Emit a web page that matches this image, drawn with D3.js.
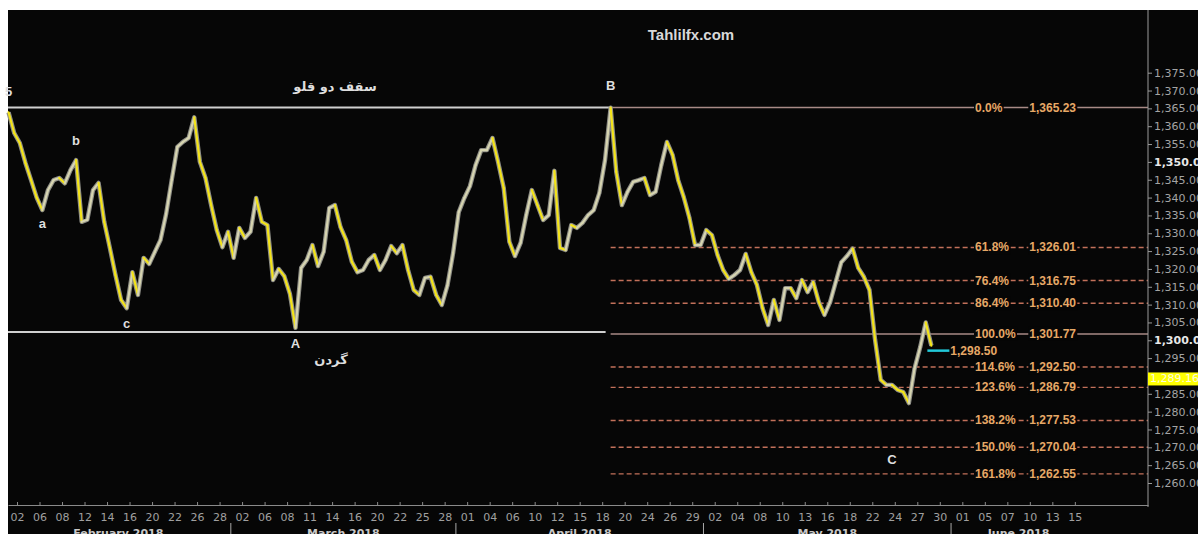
<!DOCTYPE html>
<html>
<head>
<meta charset="utf-8">
<script src="https://cdn.jsdelivr.net/npm/d3@7"></script>
<style>
  body { margin: 0; background: #fff; }
  svg { display: block; }
</style>
</head>
<body>
<svg id="chart"></svg>
<script>
// x axis: one label every 2 sessions
const dayLabels = ['02','06','08','12','14','16','20','22','26','28',
  '02','06','08','11','14','16','20','22','25','28',
  '01','04','06','10','12','15','18','20','24','26','29',
  '02','04','08','10','13','16','18','22','24','27','30',
  '01','05','07','10','13','15'];
const monthNames = ['February 2018', 'March 2018', 'April 2018', 'May 2018', 'June 2018'];
const monthCounts = [10, 10, 11, 11, 6];

// price, one value every half session
const startT = -0.75, stepT = 0.5;
const prices = [
  1363.9, 1358.1, 1355.3, 1349.7, 1344.9, 1340.0, 1336.5, 1342.1, 1344.9, 1345.5,
  1344.0, 1347.7, 1350.5, 1333.2, 1333.8, 1342.1, 1344.1, 1333.2, 1325.9, 1318.3,
  1311.3, 1309.0, 1319.1, 1312.7, 1323.1, 1321.4, 1324.8, 1328.1, 1335.4, 1345.0,
  1354.2, 1355.6, 1356.7, 1362.5, 1350.0, 1345.5, 1337.9, 1330.9, 1326.1, 1330.4,
  1323.1, 1331.5, 1328.7, 1330.4, 1339.9, 1333.2, 1332.3, 1316.9, 1320.0, 1318.0,
  1313.0, 1303.5, 1320.3, 1322.5, 1326.7, 1320.8, 1324.8, 1337.1, 1337.9, 1331.7,
  1328.1, 1322.0, 1319.1, 1319.7, 1322.5, 1323.9, 1319.7, 1322.5, 1326.4, 1324.4,
  1326.7, 1319.7, 1314.1, 1312.7, 1317.5, 1317.8, 1312.7, 1309.9, 1315.4, 1324.4,
  1335.9, 1339.9, 1343.2, 1349.1, 1353.3, 1353.3, 1356.7, 1350.0, 1342.7, 1327.6,
  1323.6, 1327.3, 1335.1, 1342.1, 1337.9, 1333.7, 1335.1, 1347.5, 1325.9, 1325.3,
  1332.3, 1331.5, 1332.9, 1335.1, 1336.5, 1341.3, 1350.5, 1365.2, 1347.2, 1337.9,
  1341.6, 1344.4, 1344.9, 1345.5, 1340.7, 1341.6, 1349.1, 1355.6, 1352.0, 1344.9,
  1340.1, 1334.3, 1326.7, 1326.7, 1330.9, 1329.5, 1323.9, 1319.7, 1317.2, 1318.3,
  1319.7, 1324.2, 1319.1, 1315.5, 1309.0, 1304.3, 1311.3, 1305.7, 1314.6, 1314.6,
  1311.8, 1316.9, 1313.5, 1316.3, 1310.7, 1307.1, 1310.7, 1316.3, 1321.9, 1323.6,
  1325.7, 1320.3, 1317.8, 1314.1, 1300.1, 1288.9, 1287.5, 1287.5, 1286.1, 1285.5,
  1282.4, 1292.0, 1298.0, 1305.0, 1298.5
];

// fibonacci extension from B down to A
const fibPct = [0, 61.8, 76.4, 86.4, 100, 114.6, 123.6, 138.2, 150, 161.8];
const fibVal = [1365.23, 1326.01, 1316.75, 1310.40, 1301.77, 1292.50, 1286.79, 1277.53, 1270.04, 1262.55];
const ceilingVal = 1365.23, neckVal = 1302.3;
const lastPrice = 1298.50, boxPrice = 1289.16;

// wave labels tied to points of the series
const waveText = ['5', 'a', 'b', 'c', 'A', 'B', 'C'];
const waveIdx  = [0, 6, 12, 21, 51, 107, 157];
const waveOff  = [-21, 13, -20, 15, 16, -22, 75];

const width = 1198, height = 534;
const svg = d3.select('#chart').attr('width', width).attr('height', height);

svg.append('rect').attr('x', 8).attr('y', 10)
  .attr('width', width - 8).attr('height', height - 10).attr('fill', '#060606');

const x = d3.scaleLinear().domain([-0.8, 100.5]).range([8, 1148]);
const y = d3.scaleLinear().domain([1260, 1375]).range([483, 72.7]);

const pts = prices.map((p, i) => ({ t: startT + i * stepT, p }));
const bT = pts[107].t;
const lastT = pts[pts.length - 1].t;

// double-top ceiling and neckline
svg.append('line').attr('x1', x.range()[0]).attr('x2', x(bT))
  .attr('y1', y(ceilingVal)).attr('y2', y(ceilingVal))
  .attr('stroke', '#cfcfcf').attr('stroke-width', 2);
svg.append('line').attr('x1', x.range()[0]).attr('x2', x(bT) - 5)
  .attr('y1', y(neckVal)).attr('y2', y(neckVal))
  .attr('stroke', '#cfcfcf').attr('stroke-width', 2);

// fib lines
const fibG = svg.append('g');
fibPct.forEach((pc, i) => {
  const yy = y(fibVal[i]);
  const solid = pc === 0 || pc === 100;
  fibG.append('line')
    .attr('x1', x(bT)).attr('x2', x.range()[1])
    .attr('y1', yy).attr('y2', yy)
    .attr('stroke', solid ? '#a88a86' : '#c2705a')
    .attr('stroke-width', 1.4)
    .attr('stroke-dasharray', solid ? null : '5,3');
});

// price line: grey band underneath, falling segments yellow, rising grey
svg.append('path').datum(pts)
  .attr('d', d3.line().x(d => x(d.t)).y(d => y(d.p)))
  .attr('fill', 'none').attr('stroke', '#8e8e86').attr('stroke-width', 4.4)
  .attr('stroke-linejoin', 'round');
svg.append('g').selectAll('line')
  .data(d3.pairs(pts))
  .join('line')
  .attr('x1', d => x(d[0].t)).attr('y1', d => y(d[0].p))
  .attr('x2', d => x(d[1].t)).attr('y2', d => y(d[1].p))
  .attr('stroke', d => d[1].p < d[0].p ? '#f4e41a' : '#d6d4b0')
  .attr('stroke-width', 2.2)
  .attr('stroke-linecap', 'round');

// fib labels with black boxes
function boxedText(g, tx, ty, anchor, txt, fill, size) {
  const t = g.append('text').attr('x', tx).attr('y', ty)
    .attr('text-anchor', anchor).attr('dominant-baseline', 'central')
    .attr('font-family', 'Liberation Sans, Arial, sans-serif')
    .attr('font-weight', 'bold').attr('font-size', size)
    .attr('fill', fill).text(txt);
  const bb = t.node().getBBox();
  g.insert('rect', () => t.node())
    .attr('x', bb.x - 1).attr('y', bb.y).attr('width', bb.width + 2).attr('height', bb.height)
    .attr('fill', '#060606');
  return t;
}
const fmt = d3.format(',.2f');
fibPct.forEach((pc, i) => {
  const yy = y(fibVal[i]);
  boxedText(fibG, 975, yy, 'start', pc.toFixed(1) + '%', '#e6a866', 12);
  boxedText(fibG, 1076, yy, 'end', fmt(fibVal[i]), '#e6a866', 12);
});

// last price marker
const cy = y(lastPrice) + 5;
svg.append('line').attr('x1', x(lastT) - 4).attr('x2', x(lastT) + 18)
  .attr('y1', cy).attr('y2', cy).attr('stroke', '#22c8d8').attr('stroke-width', 2.5);
svg.append('text').attr('x', x(lastT) + 19).attr('y', cy)
  .attr('dominant-baseline', 'central')
  .attr('font-family', 'Liberation Sans, Arial, sans-serif')
  .attr('font-weight', 'bold').attr('font-size', 12)
  .attr('fill', '#e6a866').text(fmt(lastPrice));

// right axis (labels run off the edge, as in the source)
svg.append('line').attr('x1', 1148).attr('x2', 1148).attr('y1', 10).attr('y2', 507)
  .attr('stroke', '#9a9a9a');
const yAxis = svg.append('g').attr('transform', 'translate(1148,0)')
  .call(d3.axisRight(y)
    .tickValues(d3.range(1260, 1376, 5).filter(v => v !== 1290))
    .tickFormat(fmt).tickSize(4).tickPadding(2));
yAxis.select('.domain').remove();
yAxis.selectAll('.tick line').attr('stroke', '#9a9a9a');
yAxis.selectAll('.tick text')
  .attr('font-family', 'DejaVu Sans, sans-serif').attr('font-size', 11)
  .attr('fill', d => (d === 1350 || d === 1300) ? '#e8e8e8' : '#a4a4a4')
  .attr('font-weight', d => (d === 1350 || d === 1300) ? 'bold' : 'normal');

svg.append('rect').attr('x', 1148).attr('y', y(boxPrice) - 6.5)
  .attr('width', 50).attr('height', 13).attr('fill', '#ffff00');
svg.append('text').attr('x', 1150).attr('y', y(boxPrice))
  .attr('dominant-baseline', 'central')
  .attr('font-family', 'DejaVu Sans, sans-serif').attr('font-size', 11)
  .attr('fill', '#fbfbe0').text(fmt(boxPrice));

// bottom axis
const xAxis = svg.append('g').attr('transform', 'translate(0,505)')
  .call(d3.axisBottom(x)
    .tickValues(dayLabels.map((d, i) => 2 * i))
    .tickFormat((d, i) => dayLabels[i])
    .tickSizeInner(-3).tickSizeOuter(0).tickPadding(8));
xAxis.select('.domain').attr('stroke', '#8a8a8a');
xAxis.selectAll('.tick line').attr('stroke', '#8a8a8a');
xAxis.selectAll('.tick text')
  .attr('font-family', 'DejaVu Sans, sans-serif').attr('font-size', 11)
  .attr('fill', '#a0a0a0');

// month labels centred on their day labels, separators between months
let start = 0;
monthNames.forEach((m, i) => {
  const first = 2 * start, last = 2 * (start + monthCounts[i] - 1);
  svg.append('text').attr('x', x((first + last) / 2)).attr('y', 537)
    .attr('text-anchor', 'middle')
    .attr('font-family', 'DejaVu Sans, sans-serif').attr('font-size', 11)
    .attr('font-weight', 'bold').attr('fill', '#c8c8c8').text(m);
  if (i > 0) {
    svg.append('line').attr('x1', x(first - 1)).attr('x2', x(first - 1))
      .attr('y1', 523).attr('y2', 534).attr('stroke', '#aaa');
  }
  start += monthCounts[i];
});

// wave labels
waveText.forEach((w, i) => {
  const p = pts[waveIdx[i]];
  svg.append('text').attr('x', x(p.t)).attr('y', y(p.p) + waveOff[i])
    .attr('text-anchor', 'middle').attr('dominant-baseline', 'central')
    .attr('font-family', 'Liberation Sans, Arial, sans-serif')
    .attr('font-weight', 'bold').attr('font-size', 13)
    .attr('fill', '#dedede').text(w);
});

// persian notes
svg.append('text').attr('x', 335).attr('y', y(ceilingVal) - 21)
  .attr('text-anchor', 'middle').attr('dominant-baseline', 'central')
  .attr('font-family', 'DejaVu Sans, sans-serif').attr('font-weight', 'bold')
  .attr('font-size', 13).attr('fill', '#dedede').text('سقف دو قلو');
svg.append('text').attr('x', 331).attr('y', y(neckVal) + 27)
  .attr('text-anchor', 'middle').attr('dominant-baseline', 'central')
  .attr('font-family', 'DejaVu Sans, sans-serif').attr('font-weight', 'bold')
  .attr('font-size', 13).attr('fill', '#dedede').text('گردن');

svg.append('text').attr('x', 691).attr('y', 34)
  .attr('text-anchor', 'middle').attr('dominant-baseline', 'central')
  .attr('font-family', 'Liberation Sans, Arial, sans-serif').attr('font-weight', 'bold')
  .attr('font-size', 15).attr('fill', '#d8d8d8').text('Tahlilfx.com');
</script>
</body>
</html>
